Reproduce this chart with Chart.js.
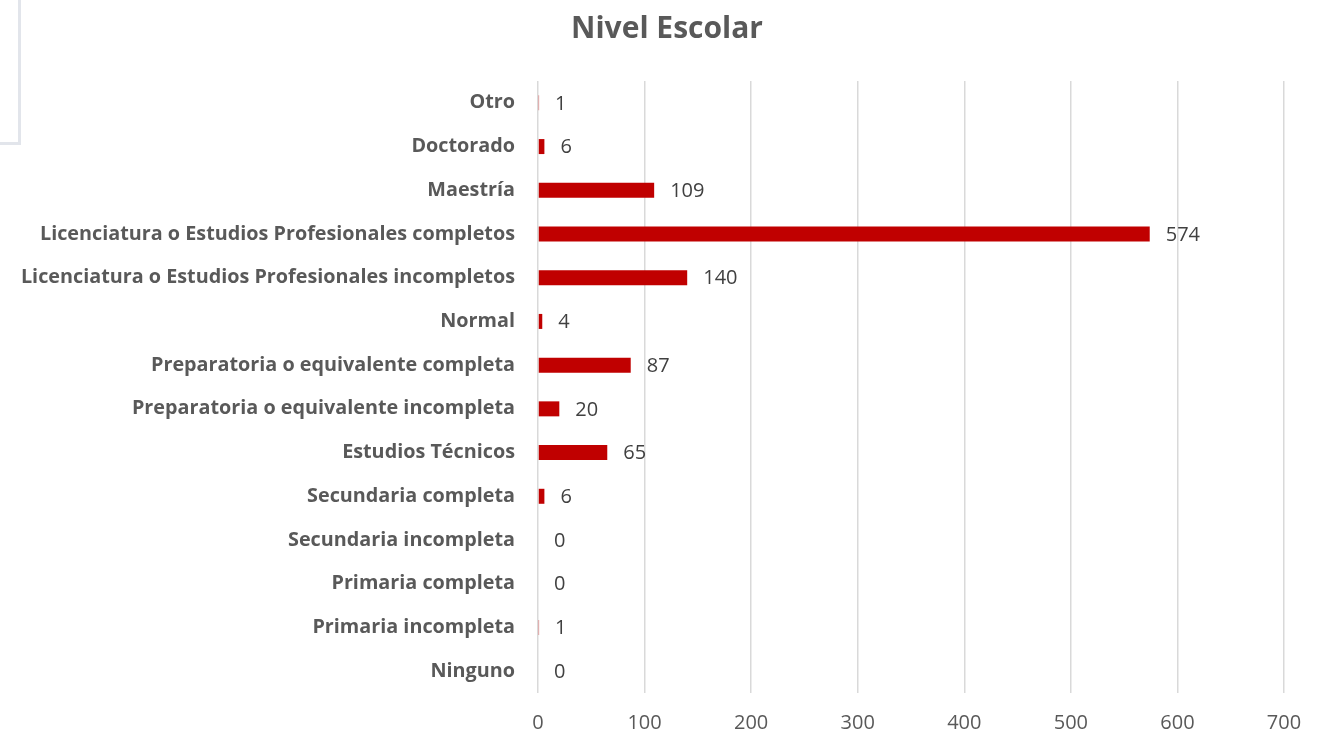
<!DOCTYPE html>
<html>
<head>
<meta charset="utf-8">
<script src="https://cdn.jsdelivr.net/npm/chart.js@4.4.1/dist/chart.umd.min.js"></script>
<style>
  html, body { margin: 0; padding: 0; background: #ffffff; }
  #wrap { position: relative; width: 1325px; height: 733px; overflow: hidden; }
  #box { position: absolute; left: -10px; top: -10px; width: 25px; height: 149px; border: 3px solid #e2e5eb; }
  canvas { position: absolute; left: 0; top: 0; }
</style>
</head>
<body>
<div id="wrap">
  <div id="box"></div>
  <canvas id="c" width="1325" height="733"></canvas>
</div>
<script>
const titleText = 'Nivel Escolar';
const categories = [
  'Otro',
  'Doctorado',
  'Maestría',
  'Licenciatura o Estudios Profesionales completos',
  'Licenciatura o Estudios Profesionales incompletos',
  'Normal',
  'Preparatoria o equivalente completa',
  'Preparatoria o equivalente incompleta',
  'Estudios Técnicos',
  'Secundaria completa',
  'Secundaria incompleta',
  'Primaria completa',
  'Primaria incompleta',
  'Ninguno'
];
const counts = [1, 6, 109, 574, 140, 4, 87, 20, 65, 6, 0, 0, 1, 0];
const xTicks = [0, 100, 200, 300, 400, 500, 600, 700];

const FONT = "'Open Sans', 'Liberation Sans', sans-serif";

const valueLabels = {
  id: 'valueLabels',
  afterLayout(chart) {
    // let the category labels extend into the left padding without clipping
    chart.scales.y.left = 0;
  },
  afterDatasetsDraw(chart) {
    const ctx = chart.ctx;
    const meta = chart.getDatasetMeta(0);
    ctx.save();
    ctx.font = '20px ' + FONT;
    ctx.fillStyle = '#404040';
    ctx.textAlign = 'left';
    ctx.textBaseline = 'middle';
    meta.data.forEach((bar, i) => {
      ctx.fillText(String(counts[i]), bar.x + 16, bar.y + 1);
    });
    ctx.restore();
  }
};

new Chart(document.getElementById('c'), {
  type: 'bar',
  data: {
    labels: categories,
    datasets: [{
      data: counts,
      backgroundColor: '#C00000',
      borderWidth: 0,
      barPercentage: 0.7,
      categoryPercentage: 0.49
    }]
  },
  options: {
    indexAxis: 'y',
    responsive: false,
    animation: false,
    layout: { padding: { left: 50, right: 41, top: 0, bottom: 0 } },
    plugins: {
      legend: { display: false },
      tooltip: { enabled: false },
      title: {
        display: true,
        text: titleText,
        color: '#595959',
        font: { family: FONT, size: 30, weight: 'bold' },
        padding: { top: 11, bottom: 34 }
      }
    },
    scales: {
      x: {
        min: 0,
        max: 700,
        afterBuildTicks(scale) { scale.ticks = xTicks.map(v => ({ value: v })); },
        afterFit(scale) { scale.height = 40; },
        grid: { color: '#d9d9d9', lineWidth: 1.5, drawTicks: false },
        border: { display: false },
        ticks: {
          color: '#595959',
          font: { family: FONT, size: 20 },
          padding: 18
        }
      },
      y: {
        afterFit(scale) { scale.width = 488; },
        grid: { display: false, drawTicks: false },
        border: { display: false },
        ticks: {
          color: '#595959',
          font: { family: FONT, size: 19.8, weight: 'bold' },
          padding: 23
        }
      }
    }
  },
  plugins: [valueLabels]
});
</script>
</body>
</html>
